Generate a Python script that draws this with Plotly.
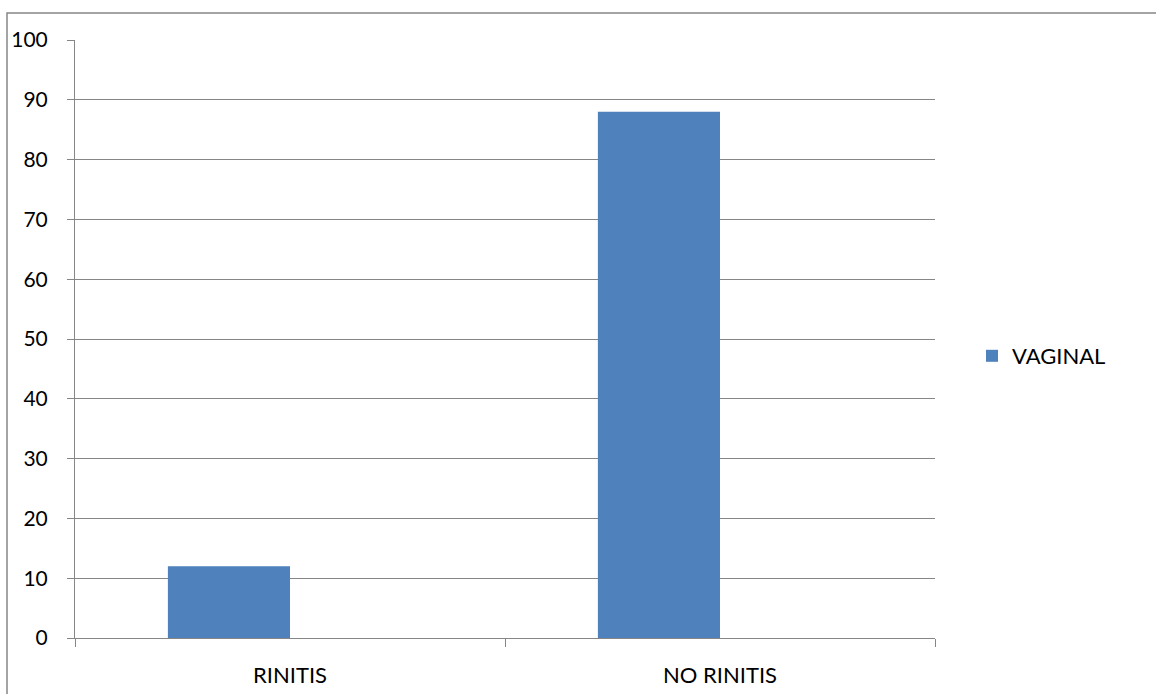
import plotly.graph_objects as go

categories = ["RINITIS", "NO RINITIS"]
values = [12, 88]
series_name = "VAGINAL"
y_ticks = list(range(0, 101, 10))

W, H = 1156, 694
L, R, T, B = 75, 221, 40, 56
pw, ph = W - L - R, H - T - B

fig = go.Figure()
fig.add_trace(go.Bar(x=categories, y=values, name=series_name,
                     marker=dict(color="#4F81BD", line=dict(width=0)),
                     width=0.284, offset=-0.284,
                     showlegend=True))

grid = "#868686"
fig.update_layout(
    width=W, height=H,
    margin=dict(l=L, r=R, t=T, b=B, autoexpand=False),
    paper_bgcolor="white", plot_bgcolor="white",
    font=dict(family="Lato, Noto Sans, sans-serif", size=22, color="black"),
    showlegend=True,
    legend=dict(x=(972 - L) / pw, y=(638 - 356) / ph, xanchor="left", yanchor="middle",
                font=dict(size=22), itemwidth=30, bgcolor="rgba(0,0,0,0)"),
    xaxis=dict(showgrid=False, showline=True, linecolor=grid, linewidth=1,
               ticks="outside", tickson="boundaries", ticklen=8, tickcolor=grid,
               tickfont=dict(size=22), ticklabelstandoff=18, automargin=False),
    yaxis=dict(range=[0, 100], tickvals=y_ticks, showgrid=True, gridcolor=grid,
               gridwidth=1, showline=True, linecolor=grid, linewidth=1,
               ticks="outside", ticklen=7, tickcolor=grid, zeroline=False,
               tickfont=dict(size=21), ticklabelstandoff=15, automargin=False),
    shapes=[dict(type="rect", xref="paper", yref="paper",
                 x0=(7 - L) / pw, x1=(1170 - L) / pw,
                 y0=(638 - 710) / ph, y1=(638 - 13) / ph,
                 line=dict(color="#868686", width=1.5), fillcolor="rgba(0,0,0,0)",
                 layer="below")],
)

fig.write_html("out.html")
